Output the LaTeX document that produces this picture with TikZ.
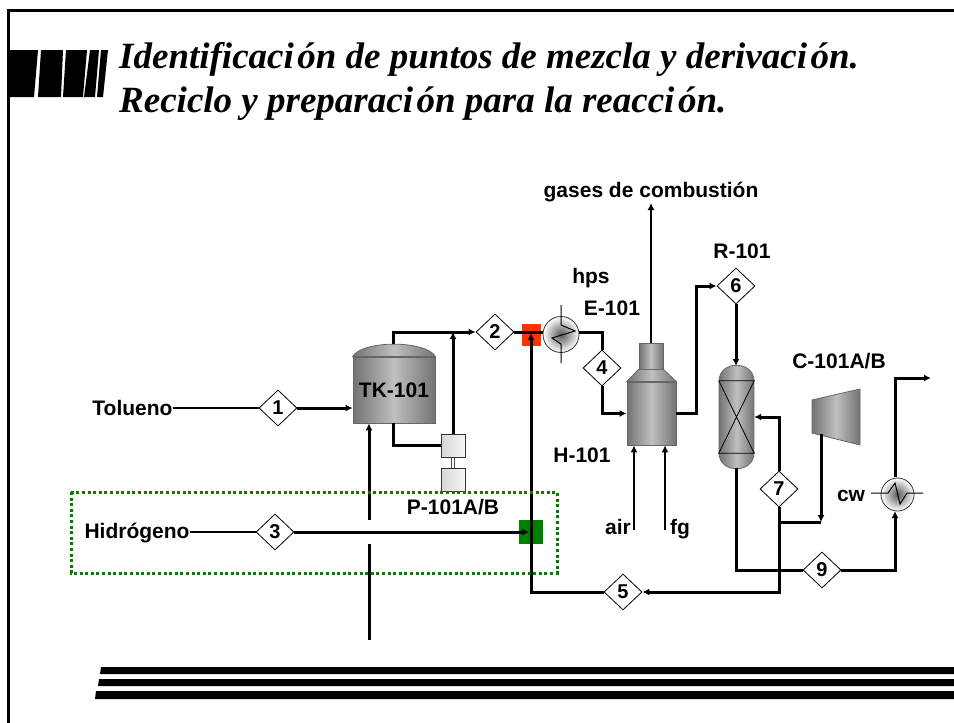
\documentclass[tikz,border=0pt]{standalone}
\usepackage{fontspec}
\setmainfont{Liberation Sans}
\newfontfamily\titlefont{Liberation Serif}
\usetikzlibrary{shapes.geometric,arrows.meta}
\definecolor{mixred}{HTML}{FF3300}
\definecolor{mixgreen}{HTML}{008000}
\newcommand{\gapo}{\kern3.5ptó}
\tikzset{
  >={Latex[length=7pt,width=7pt]},
  stream/.style={line width=3pt},
  feedline/.style={line width=2pt},
  thinline/.style={line width=1.2pt},
  streamtag/.style={diamond,draw,fill=white,line width=0.8pt,aspect=1.05,minimum width=38pt,minimum height=36pt,inner sep=0pt,font=\bfseries\fontsize{20}{20}\selectfont},
  tag/.style={inner sep=0pt,font=\bfseries\fontsize{21}{21}\selectfont},
  vessel/.style={draw=black!60,line width=0.8pt,left color=black!55,right color=black!55,middle color=black!25},
  pumpbox/.style={draw=black!80,line width=0.8pt,left color=black!16,right color=black!4,minimum width=24pt,minimum height=23pt,inner sep=0pt},
  exchanger/.style={circle,draw=black!80,line width=0.8pt,inner color=black!65,outer color=white,inner sep=0pt},
  titletext/.style={inner sep=0pt,anchor=base west,font=\titlefont\bfseries\itshape\fontsize{37}{37}\selectfont},
}
\begin{document}
\begin{tikzpicture}[x=1pt,y=-1pt]
        \useasboundingbox (0,0) rectangle (954,723);
        %% frame
        \fill[white] (0,0) rectangle (954,723);
        \draw[line width=3pt] (954,10) -- (8,10) -- (8,723);
        %% title bars
        \fill (8,50) -- (38,50) -- (34,97) -- (8,97) -- cycle;
        \fill (41,50) -- (63,50) -- (61,97) -- (38,97) -- cycle;
        \fill (66,50) -- (87,50) -- (83,97) -- (63,97) -- cycle;
        \fill (90,50) -- (99,50) -- (95,97) -- (84,97) -- cycle;
        \fill (101,50) -- (108,50) -- (103,97) -- (97,97) -- cycle;
        \node[titletext] (title1) at (119,68) {Identificaci\gapo n de puntos de mezcla y derivaci\gapo n.};
        \node[titletext] (title2) at (119,112) {Reciclo y preparaci\gapo n para la reacci\gapo n.};
        %% bottom bars
        \fill (101,667) -- (954,667) -- (954,674) -- (100,674) -- cycle;
        \fill (99,679) -- (954,679) -- (954,686) -- (98,686) -- cycle;
        \fill (96,691) -- (954,691) -- (954,699) -- (95,699) -- cycle;
        %% mixing points
        \node[fill=mixred,inner sep=0pt,minimum width=19pt,minimum height=22pt] (mixA) at (531.5,335) {};
        \node[fill=mixgreen,inner sep=0pt,minimum size=24pt] (mixB) at (531,532) {};
        %% equipment
        \node[vessel,minimum width=82pt,minimum height=66pt,inner sep=0pt,font=\bfseries\fontsize{21}{21}\selectfont] (tk101) at (394,390) {TK-101};
        \coordinate (tktop) at (393,346);
        \node[pumpbox] (pumpA) at (453,445.5) {};
        \node[pumpbox] (pumpB) at (453,479.5) {};
        \draw[line width=0.7pt,draw=black!70] (pumpA.south) ++(-1.5,0) -- ++(0,11) ++(3,-11) -- ++(0,11);
        \node[vessel,minimum width=49pt,minimum height=63pt,inner sep=0pt] (h101) at (651.5,413.5) {};
        \node[vessel,minimum width=24pt,minimum height=26pt,inner sep=0pt] (h101stack) at (651,356) {};
        \draw[vessel] (h101.north west) -- (h101stack.south west) -- (h101stack.south east) -- (h101.north east) -- cycle;
        \draw[vessel] (719,381) .. controls (719,360) and (754,360) .. (754,381) -- (754,453) .. controls (754,474) and (719,474) .. (719,453) -- cycle;
        \node[minimum width=35pt,minimum height=72pt,inner sep=0pt] (r101) at (736.5,417) {};
        \draw[line width=0.8pt] (r101.north west) -- (r101.north east) -- (r101.south west) -- (r101.south east) -- (r101.north west);
        \draw[vessel] (812,400) -- (860,389) -- (860,445) -- (812,433) -- cycle;
        \node[exchanger,minimum size=36pt] (e101) at (561,334.5) {};
        \node[exchanger,minimum size=33pt] (e102) at (897.5,494.5) {};
        \draw[line width=1pt] (561,305) -- (561,325) -- (575,331) -- (552,338) -- (561,344) -- (561,363);
        \draw[line width=1pt] (871,493) -- (888,493) -- (895,483) -- (900,504) -- (907,493) -- (923,493);
        %% stream numbers
        \node[streamtag] (s1) at (278,408) {1};
        \node[streamtag] (s2) at (495,332) {2};
        \node[streamtag] (s3) at (275,532) {3};
        \node[streamtag] (s4) at (602,368) {4};
        \node[streamtag] (s5) at (623,592) {5};
        \node[streamtag] (s6) at (736,286) {6};
        \node[streamtag] (s7) at (779,489) {7};
        \node[streamtag] (s9) at (822,570) {9};
        %% labels
        \node[tag] (tolueno) at (132.5,408) {Tolueno};
        \node[tag] (hidrogeno) at (137,533) {Hidrógeno};
        \node[tag] (gases) at (651,192) {gases de combustión};
        \node[tag] (hps) at (591,278) {hps};
        \node[tag] (lblE) at (612,308) {E-101};
        \node[tag] (lblR) at (742,251) {R-101};
        \node[tag] (lblH) at (582,455) {H-101};
        \node[tag] (lblP) at (453,507) {P-101A/B};
        \node[tag] (lblC) at (839,361) {C-101A/B};
        \node[tag] (lblcw) at (851,496) {cw};
        \node[tag,anchor=base] (lblair) at (618,534) {air};
        \node[tag,anchor=base] (lblfg) at (680,534) {fg};
        %% free ends
        \coordinate (tkfeedA) at (369,520);
        \coordinate (tkfeedB) at (369,544);
        \coordinate (tkfeedC) at (369,640);
        \coordinate (mixBin) at (529,532);
        \coordinate (mixAin) at (531,333);
        \coordinate (r101top) at (736,366);
        \coordinate (r101bot) at (736,468);
        \coordinate (c101out) at (821,434);
        \coordinate (c101in) at (821,522);
        \coordinate (stacktop) at (651,203);
        \coordinate (airin) at (634,530);
        \coordinate (fgin) at (665,530);
        \coordinate (e102in) at (895,511);
        \coordinate (e102out) at (895,477);
        \coordinate (prodout) at (931,378);
        %% streams
        \draw[feedline] (tolueno.east |- s1) -- (s1);
        \draw[stream,->] (s1) -- (tk101.west |- s1);
        \draw[stream,->] (tkfeedA) -- (tkfeedA |- tk101.south);
        \draw[stream] (tkfeedB) -- (tkfeedC);
        \draw[feedline] (hidrogeno.east |- s3) -- (s3);
        \draw[stream,->] (s3) -- (mixBin);
        \draw[stream,->] (tktop) |- (s2);
        \draw[stream,->] (pumpA.north) -- (pumpA.north |- s2);
        \draw[stream] (tk101.south -| tktop) |- (pumpA.west);
        \draw[stream] (s2) -- (e101.west |- s2);
        \draw[stream] (e101.east |- s2) -| (s4);
        \draw[stream,->] (s4) |- (h101.west);
        \draw[stream,->] (h101.east) -- ++(20,0) |- (s6);
        \draw[stream,->] (s6) -- (r101top);
        \draw[stream,->] (s7) |- (r101.east);
        \draw[stream,->] (s7) |- (s5);
        \draw[stream,->] (s5) -| (mixAin);
        \draw[stream,->] (c101out) -- (c101in);
        \draw[stream] (s7 |- c101in) -- (c101in);
        \draw[stream] (r101bot) |- (s9);
        \draw[stream,->] (s9) -| (e102in);
        \draw[stream,->] (e102out) |- (prodout);
        \draw[thinline,->] (h101stack.north -| stacktop) -- (stacktop);
        \draw[thinline,->] (airin) -- (airin |- h101.south);
        \draw[thinline,->] (fgin) -- (fgin |- h101.south);
        %% tank dome
        \draw[vessel] (tk101.north west) .. controls (362,340) and (426,340) .. (tk101.north east) -- cycle;
        %% green box
        \draw[mixgreen,line width=3pt,dash pattern=on 3pt off 2.6pt] (71,492) rectangle (557,573);
    \end{tikzpicture}
\end{document}
